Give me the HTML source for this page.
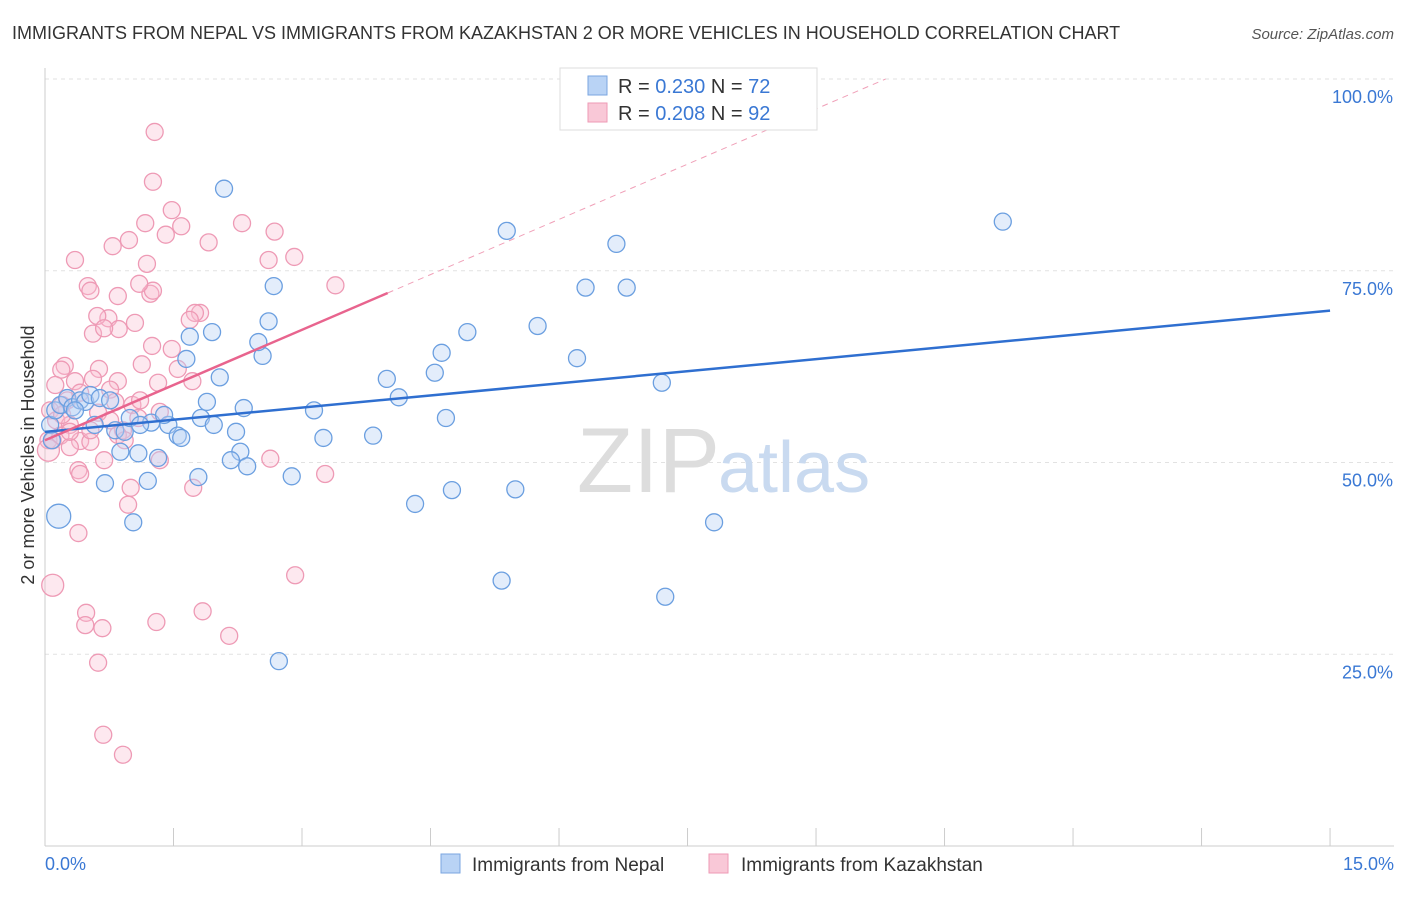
<!DOCTYPE html>
<html><head><meta charset="utf-8"><style>
body{margin:0;background:#fff;font-family:"Liberation Sans",sans-serif;}
svg text{font-family:"Liberation Sans",sans-serif;}
</style></head><body>
<svg width="1406" height="892" viewBox="0 0 1406 892" xmlns="http://www.w3.org/2000/svg">
<text x="12" y="39" font-size="18" fill="#333">IMMIGRANTS FROM NEPAL VS IMMIGRANTS FROM KAZAKHSTAN 2 OR MORE VEHICLES IN HOUSEHOLD CORRELATION CHART</text>
<text x="1394" y="39" font-size="15" fill="#555" font-style="italic" text-anchor="end">Source: ZipAtlas.com</text>
<g id="grid"></g>
<g id="axes"></g>
<text x="720" y="492" font-size="92" fill="#ddd" text-anchor="end" font-family="Liberation Serif">ZIP</text>
<text x="718" y="492" font-size="72" fill="#c9daf0">atlas</text>
<g id="pts"></g>
<g id="trends"></g>
<text transform="translate(34,455) rotate(-90)" font-size="18" fill="#333" text-anchor="middle">2 or more Vehicles in Household</text>
<g>
<rect x="560" y="68" width="257" height="62" fill="#fff" stroke="#ddd"/>
<rect x="588" y="76" width="19" height="19" fill="#b9d3f5" stroke="#7aa6e0"/>
<rect x="588" y="103" width="19" height="19" fill="#f9c8d7" stroke="#ee9ab5"/>
<text x="618" y="93" font-size="20" fill="#333">R = <tspan fill="#3a78d4">0.230</tspan>   N = <tspan fill="#3a78d4">72</tspan></text>
<text x="618" y="120" font-size="20" fill="#333">R = <tspan fill="#3a78d4">0.208</tspan>   N = <tspan fill="#3a78d4">92</tspan></text>
</g>
<g>
<rect x="441" y="854" width="19" height="19" fill="#b9d3f5" stroke="#7aa6e0"/>
<text x="472" y="871" font-size="19" fill="#333">Immigrants from Nepal</text>
<rect x="709" y="854" width="19" height="19" fill="#f9c8d7" stroke="#ee9ab5"/>
<text x="741" y="871" font-size="19" fill="#333">Immigrants from Kazakhstan</text>
</g>
</svg>
<script>
const nepalX=[2.09,5.39,6.67,11.18,6.31,6.79,2.67,2.61,1.95,1.69,1.65,2.54,2.49,4.93,5.75,6.21,4.63,4.55,3.99,4.13,2.04,1.89,2.32,3.14,1.82,1.97,2.23,1.44,1.24,1.39,1.55,1.59,3.25,3.83,4.68,7.20,2.28,2.17,2.36,1.32,2.88,1.79,1.09,0.88,1.20,0.70,1.03,0.16,4.32,4.75,5.49,5.33,7.24,7.81,2.73,0.06,0.12,0.18,0.26,0.32,0.41,0.47,0.53,0.64,0.76,0.58,0.82,0.93,0.99,1.11,0.08,0.35];
const nepalY=[85.7,80.2,78.5,81.4,72.8,72.8,73.0,68.4,67.0,66.4,63.5,63.9,65.7,67.0,67.8,63.6,64.3,61.7,60.9,58.5,61.1,57.9,57.1,56.8,55.8,54.9,54.0,54.9,55.2,56.2,53.5,53.2,53.2,53.5,55.8,60.4,51.4,50.3,49.5,50.6,48.2,48.1,51.2,51.4,47.6,47.3,42.2,43.0,44.6,46.4,46.5,34.6,32.5,42.2,24.1,54.9,56.8,57.5,58.4,57.2,58.1,57.9,58.8,58.4,58.1,54.9,54.2,54.0,55.8,54.9,52.9,56.8];
const kazX=[1.28,1.26,1.48,1.59,2.30,2.68,1.17,0.98,0.79,1.41,1.91,0.35,1.19,2.61,2.91,3.39,0.50,0.53,0.85,1.23,1.26,1.10,1.81,1.75,1.69,0.74,1.05,0.86,0.61,0.56,0.69,1.25,1.48,1.13,1.55,0.23,0.19,0.63,1.72,1.32,0.35,0.56,0.85,0.12,0.76,0.41,0.26,1.02,0.20,0.82,0.06,0.13,0.29,0.62,1.09,1.34,0.04,0.09,0.18,0.41,0.53,0.29,0.91,0.85,0.69,1.34,0.39,0.41,1.00,1.73,0.97,2.63,3.27,0.39,0.09,2.92,0.48,0.47,0.67,1.30,1.84,2.15,0.62,0.68,0.91,0.04,0.20,0.29,0.76,0.93,1.11,0.53];
const kazY=[93.1,86.6,82.9,80.8,81.2,80.1,81.2,79.0,78.2,79.7,78.7,76.4,75.9,76.4,76.8,73.1,73.0,72.4,71.7,72.0,72.4,73.3,69.5,69.5,68.6,68.8,68.2,67.4,69.1,66.8,67.5,65.2,64.8,62.8,62.2,62.6,62.1,62.2,60.6,60.4,60.6,60.9,60.6,60.1,59.5,59.1,58.1,57.5,57.5,57.9,56.8,55.5,54.9,56.5,55.8,56.6,52.9,52.9,53.5,52.8,52.7,52.0,54.2,53.6,50.3,50.3,49.0,48.5,46.7,46.7,44.5,50.5,48.5,40.8,34.0,35.3,30.4,28.8,28.4,29.2,30.6,27.4,23.9,14.5,11.9,51.6,56.2,54.0,55.5,52.9,58.1,54.2];
const yTicks=[25,50,75,100];
const yTickLabels=["25.0%","50.0%","75.0%","100.0%"];
const xTicks=[0,1.5,3,4.5,6,7.5,9,10.5,12,13.5,15];
const nepalTrend=[54.0,69.8];
const kazTrend=[52.9,72.1];
const kazTrendEndX=4.0;

const X=v=>45+v*85.67, Y=v=>846-v*7.67;
const NS="http://www.w3.org/2000/svg";
function mk(tag,attrs,parent){const e=document.createElementNS(NS,tag);for(const k in attrs)e.setAttribute(k,attrs[k]);parent.appendChild(e);return e;}
const grid=document.getElementById('grid'),axes=document.getElementById('axes'),pts=document.getElementById('pts'),tr=document.getElementById('trends');
yTicks.forEach((t,i)=>{
  const l=mk('line',{x1:45,x2:1394,y1:Y(t),y2:Y(t),stroke:'#e2e2e2','stroke-dasharray':'4,4'},grid);
  
  
  const tx=mk('text',{x:1393,y:Y(t)+24,'font-size':18,fill:'#3a78d4','text-anchor':'end'},axes);
  tx.textContent=yTickLabels[i];
  
  
});
mk('line',{x1:45,x2:45,y1:68,y2:846,stroke:'#ccc'},axes);
mk('line',{x1:45,x2:1394,y1:846,y2:846,stroke:'#ccc'},axes);
xTicks.forEach(t=>{const l=mk('line',{x1:X(t),x2:X(t),y1:828,y2:846,stroke:'#ccc'},axes);
  
  });
const x0=mk('text',{x:45,y:870,'font-size':18,fill:'#3a78d4'},axes);x0.textContent='0.0%';


const x1=mk('text',{x:1394,y:870,'font-size':18,fill:'#3a78d4','text-anchor':'end'},axes);x1.textContent='15.0%';


kazX.forEach((v,i)=>{const big=(i===85||i===74);
  const c=mk('circle',{cx:X(v),cy:Y(kazY[i]),r:big?11:8.5,fill:'rgba(249,190,210,0.35)',stroke:'#ee9ab5','stroke-width':1.3},pts);
  
  });
nepalX.forEach((v,i)=>{const big=(i===47);
  const c=mk('circle',{cx:X(v),cy:Y(nepalY[i]),r:big?12:8.5,fill:'rgba(185,211,245,0.4)',stroke:'#6b9fe0','stroke-width':1.3},pts);
  
  });
const bl=mk('line',{x1:X(0),y1:Y(nepalTrend[0]),x2:X(15),y2:Y(nepalTrend[1]),stroke:'#2f6fd0','stroke-width':2.5},tr);


const slope=(kazTrend[1]-kazTrend[0])/kazTrendEndX;
const xEnd=(100-kazTrend[0])/slope;
const pd=mk('line',{x1:X(kazTrendEndX),y1:Y(kazTrend[1]),x2:X(xEnd),y2:Y(100),stroke:'#f0a0b8','stroke-width':1,'stroke-dasharray':'6,5'},tr);


const pl=mk('line',{x1:X(0),y1:Y(kazTrend[0]),x2:X(kazTrendEndX),y2:Y(kazTrend[1]),stroke:'#e8648e','stroke-width':2.5},tr);


</script>
</body></html>
